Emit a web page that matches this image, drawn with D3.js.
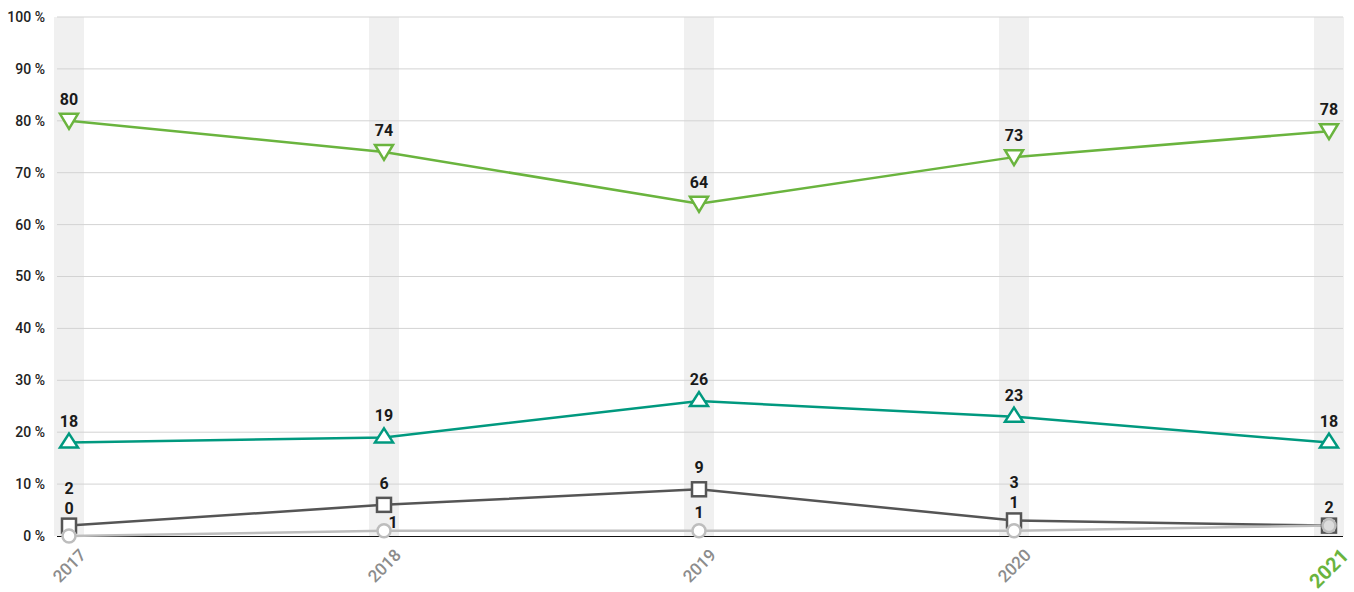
<!DOCTYPE html>
<html><head><meta charset="utf-8">
<script src="https://cdn.jsdelivr.net/npm/d3@7"></script>
<style>
body{margin:0;background:#fff;}
text{font-family:Roboto, "Noto Sans", sans-serif;}
</style></head>
<body><svg id="c" width="1354" height="592"></svg>
<script>
const years = ["2017","2018","2019","2020","2021"];
const greenVals = [80,74,64,73,78];
const tealVals = [18,19,26,23,18];
const darkVals = [2,6,9,3,2];
const lightVals = [0,1,1,1,2];
const yTicks = [0,10,20,30,40,50,60,70,80,90,100];
const lightLabelSide = ["top","right","top","top","top"];

const svg = d3.select("#c");
const x = d3.scalePoint().domain(years).range([69,1329]);
const y = d3.scaleLinear().domain([0,100]).range([536,17]);

// bands
svg.append("g").selectAll("rect").data(years).join("rect")
  .attr("x", d=>x(d)-15).attr("width",30)
  .attr("y", y(100)).attr("height", y(0)-y(100)).attr("fill","#f0f0f0");

// grid
svg.append("g").selectAll("line").data(yTicks.filter(d=>d>0)).join("line")
  .attr("x1",57).attr("x2",1343).attr("y1",d=>y(d)).attr("y2",d=>y(d))
  .attr("stroke","#d3d3d3").attr("stroke-width",1);
svg.append("line").attr("x1",57).attr("x2",1343).attr("y1",y(0)+0.5).attr("y2",y(0)+0.5)
  .attr("stroke","#111").attr("stroke-width",1.2);

// y labels
const yAxis = d3.axisLeft(y).tickValues(yTicks).tickSize(0).tickPadding(0).tickFormat(d=>d+" %");
const ya = svg.append("g").attr("transform","translate(45,0)").call(yAxis);
ya.select(".domain").remove();
ya.attr("font-size",14).attr("font-family","Roboto, sans-serif");
ya.selectAll("text").style("font-size","14px").attr("font-weight",500).attr("fill","#222");

// x labels
const xAxis = d3.axisBottom(x).tickSize(0).tickPadding(0);
const xa = svg.append("g").call(xAxis);
xa.select(".domain").remove();
xa.selectAll(".tick").attr("transform", (d,i)=>`translate(${x(d)+(i===4?16:14)},552)`);
xa.selectAll("text").attr("transform","rotate(-45)").attr("text-anchor","end")
  .attr("dy","0.35em").attr("y",0).attr("x",0)
  .attr("font-family","Roboto, sans-serif")
  .style("font-size", (d,i)=> i===4?"20px":"17px")
  .attr("font-weight", (d,i)=> i===4?700:500)
  .attr("fill", (d,i)=> i===4?"#6ab43e":"#8c8c8c");

const series = [
  {vals:lightVals, color:"#bdbdbd", shape:"circle"},
  {vals:darkVals, color:"#555555", shape:"square"},
  {vals:tealVals, color:"#00997f", shape:"up"},
  {vals:greenVals, color:"#6ab43e", shape:"down"}
];

const line = d3.line().x((d,i)=>x(years[i])).y(d=>y(d));
series.slice().reverse().forEach(s=>{
  svg.append("path").datum(s.vals).attr("d",line).attr("fill","none")
    .attr("stroke",s.color).attr("stroke-width",2.5);
});
series.slice().reverse().forEach(s=>{
  const g = svg.append("g");
  s.vals.forEach((v,i)=>{
    const cx=x(years[i]), cy=y(v);
    if(s.shape==="circle"){
      g.append("circle").attr("cx",cx).attr("cy",cy).attr("r",6.5)
        .attr("fill", i===4?"#dcdcdc":"#fff").attr("stroke",s.color).attr("stroke-width",2.5);
    } else if(s.shape==="square"){
      g.append("rect").attr("x",cx-7).attr("y",cy-7).attr("width",14).attr("height",14)
        .attr("fill","#fff").attr("stroke",s.color).attr("stroke-width",2.5);
    } else if(s.shape==="up"){
      g.append("path").attr("d",`M${cx},${cy-9}L${cx+9},${cy+5}L${cx-9},${cy+5}Z`)
        .attr("fill","#fff").attr("stroke",s.color).attr("stroke-width",2.5);
    } else {
      g.append("path").attr("d",`M${cx},${cy+8}L${cx+9},${cy-7}L${cx-9},${cy-7}Z`)
        .attr("fill","#fff").attr("stroke",s.color).attr("stroke-width",2.5);
    }
  });
});

// labels with simple stacking per year
const lab = svg.append("g");
const fs = 16;
years.forEach((yr,i)=>{
  let prevBase = Infinity, prevVal = null;
  series.forEach((s,si)=>{
    const v = s.vals[i];
    if(prevVal!==null && v===prevVal) return;
    const cx = x(yr), cy = y(v);
    if(si===0 && lightLabelSide[i]==="right"){
      lab.append("text").attr("x",cx+9).attr("y",cy-3).attr("text-anchor","middle")
        .attr("font-size",fs).attr("font-weight",700).attr("fill","#1a1a1a").text(v);
      prevVal=v; return;
    }
    let base = cy - (s.shape==="circle"?13:16);
    series.forEach((o,oi)=>{
      if(oi<=si) return;
      const oy = y(o.vals[i]);
      if(o.vals[i]!==v && base > oy-8 && base-12 < oy+8) base = oy-12;
    });
    if(base > prevBase-20) base = prevBase-20;
    lab.append("text").attr("x",cx).attr("y",base).attr("text-anchor","middle")
      .attr("font-size",fs).attr("font-weight",700).attr("fill","#1a1a1a").text(v);
    prevBase = base; prevVal = v;
  });
});
</script></body></html>
